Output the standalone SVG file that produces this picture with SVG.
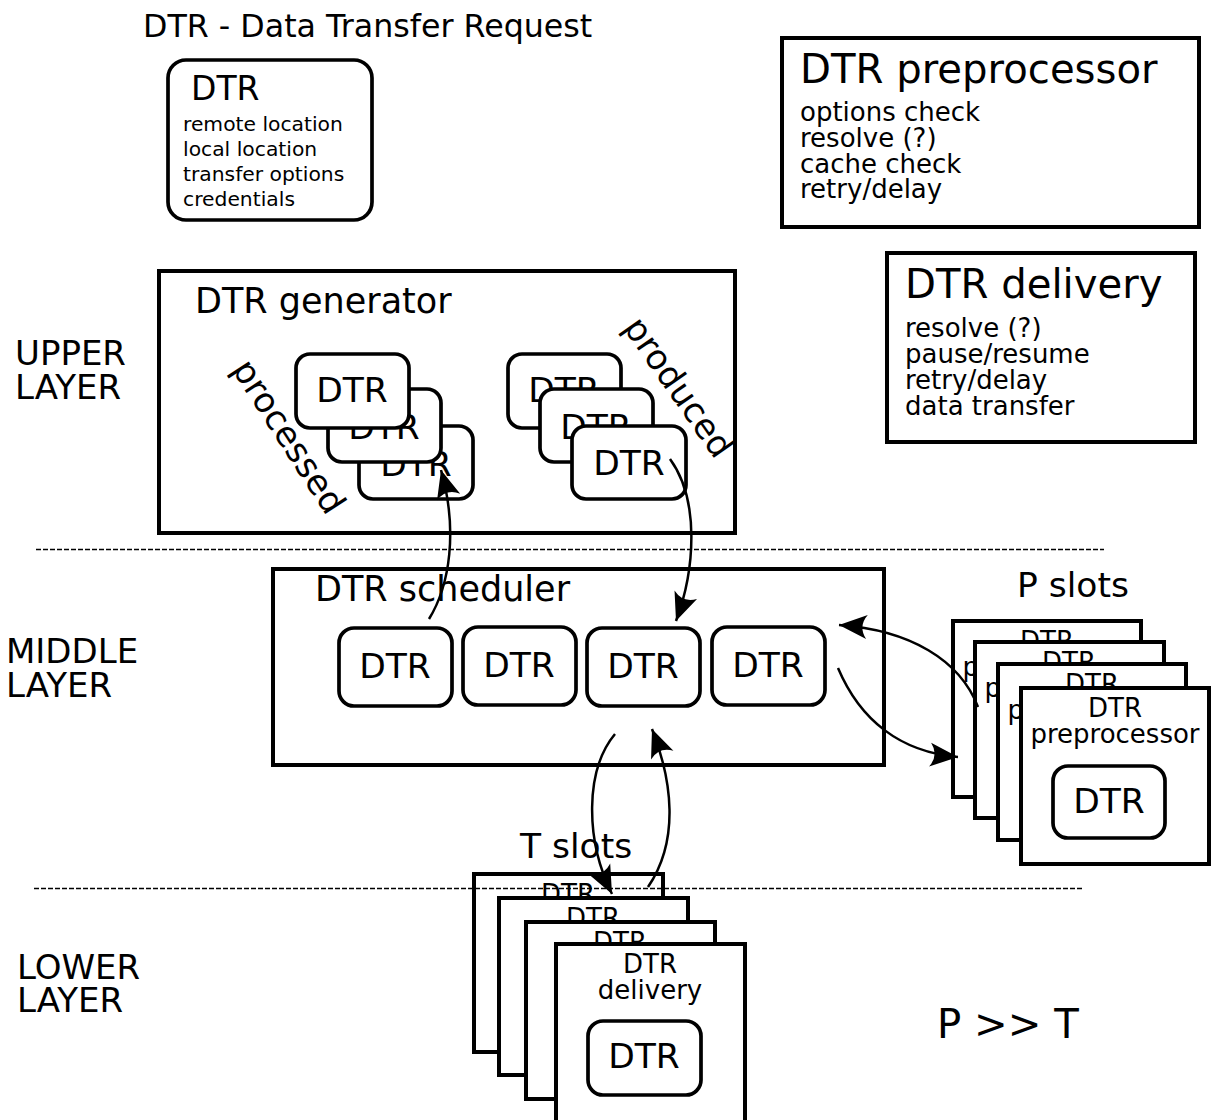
<svg xmlns="http://www.w3.org/2000/svg" width="1211" height="1120" viewBox="0 0 1211 1120">
<style>
text{font-family:"DejaVu Sans","Liberation Sans",sans-serif;fill:#000}
.box{fill:#fff;stroke:#000;stroke-width:4}
.rbox{fill:#fff;stroke:#000;stroke-width:3.7}
.slot{fill:#fff;stroke:#000;stroke-width:4}
.t34{font-size:34.5px}
.t26{font-size:26px}
.t20{font-size:20.3px}
.t40{font-size:40.2px}
.lay{font-size:34px}
.mid{text-anchor:middle}
.conn{fill:none;stroke:#000;stroke-width:2.5;marker-end:url(#ah)}
.dash{fill:none;stroke:#000;stroke-width:1.3;stroke-dasharray:5,2}
</style>
<defs>
<marker id="ah" markerUnits="userSpaceOnUse" markerWidth="32" markerHeight="28" refX="0" refY="0" orient="auto" overflow="visible">
<path d="M0,0 L-28,-12 Q-19,0 -28,12 Z" fill="#000"/>
</marker>
</defs>
<rect width="1211" height="1120" fill="#fff"/>

<g id="title"><text x="143" y="37" style="font-size:31.7px">DTR - Data Transfer Request</text></g>

<g id="dtr-info">
<rect x="168" y="60" width="204" height="160" rx="18" class="rbox"/>
<text x="191" y="100" style="font-size:33px">DTR</text>
<text x="183" y="131" class="t20">remote location</text>
<text x="183" y="156" class="t20">local location</text>
<text x="183" y="181" class="t20">transfer options</text>
<text x="183" y="206" class="t20">credentials</text>
</g>

<g id="preprocessor-info">
<rect x="782" y="38" width="417" height="189" class="box"/>
<text x="800" y="83" class="t40">DTR preprocessor</text>
<text x="800" y="121" class="t26">options check</text>
<text x="800" y="147" class="t26">resolve (?)</text>
<text x="800" y="173" class="t26">cache check</text>
<text x="800" y="198" class="t26">retry/delay</text>
</g>

<g id="delivery-info">
<rect x="887" y="253" width="308" height="189" class="box"/>
<text x="905" y="298" class="t40">DTR delivery</text>
<text x="905" y="337" class="t26">resolve (?)</text>
<text x="905" y="363" class="t26">pause/resume</text>
<text x="905" y="389" class="t26">retry/delay</text>
<text x="905" y="415" class="t26">data transfer</text>
</g>

<g id="layer-labels">
<text x="15" y="365" class="lay">UPPER</text>
<text x="15" y="399" class="lay">LAYER</text>
<text x="6" y="663" class="lay">MIDDLE</text>
<text x="6" y="697" class="lay">LAYER</text>
<text x="17" y="979" class="lay">LOWER</text>
<text x="17" y="1012" class="lay">LAYER</text>
</g>

<g id="generator">
<rect x="159" y="271" width="576" height="262" class="box"/>
<text x="195" y="313" style="font-size:35px">DTR generator</text>
<rect x="359" y="426" width="114" height="73" rx="14" class="rbox"/>
<text x="416" y="476" class="t34 mid">DTR</text>
<rect x="328" y="389" width="113" height="73" rx="14" class="rbox"/>
<text x="384" y="439" class="t34 mid">DTR</text>
<rect x="296" y="354" width="113" height="74" rx="14" class="rbox"/>
<text x="352" y="402" class="t34 mid">DTR</text>
<text transform="translate(279,443) rotate(57)" class="t34 mid">processed</text>
<rect x="508" y="354" width="113" height="74" rx="14" class="rbox"/>
<text x="564" y="402" class="t34 mid">DTR</text>
<rect x="540" y="389" width="113" height="73" rx="14" class="rbox"/>
<text x="596" y="439" class="t34 mid">DTR</text>
<rect x="572" y="426" width="114" height="73" rx="14" class="rbox"/>
<text x="629" y="475" class="t34 mid">DTR</text>
<text transform="translate(669,394) rotate(55)" class="t34 mid">produced</text>
</g>

<g id="scheduler">
<rect x="273" y="569" width="611" height="196" class="box"/>
<text x="315" y="601" style="font-size:35px">DTR scheduler</text>
<rect x="339" y="628" width="113" height="78" rx="15" class="rbox"/>
<text x="395" y="678" class="t34 mid">DTR</text>
<rect x="463" y="627" width="113" height="78" rx="15" class="rbox"/>
<text x="519" y="677" class="t34 mid">DTR</text>
<rect x="587" y="628" width="113" height="78" rx="15" class="rbox"/>
<text x="643" y="678" class="t34 mid">DTR</text>
<rect x="712" y="627" width="113" height="78" rx="15" class="rbox"/>
<text x="768" y="677" class="t34 mid">DTR</text>
</g>

<g id="p-slots">
<text x="1017" y="597" class="t34">P slots</text>
<rect x="953" y="621" width="188" height="176" class="slot"/>
<text x="1047" y="650" class="t26 mid">DTR</text>
<text x="1047" y="676" class="t26 mid">preprocessor</text>
<rect x="975" y="642" width="189" height="176" class="slot"/>
<text x="1069" y="671" class="t26 mid">DTR</text>
<text x="1069" y="697" class="t26 mid">preprocessor</text>
<rect x="998" y="664" width="188" height="176" class="slot"/>
<text x="1092" y="693" class="t26 mid">DTR</text>
<text x="1092" y="719" class="t26 mid">preprocessor</text>
<rect x="1021" y="688" width="188" height="176" class="slot"/>
<text x="1115" y="717" class="t26 mid">DTR</text>
<text x="1115" y="743" class="t26 mid">preprocessor</text>
<rect x="1053" y="766" width="112" height="72" rx="15" class="rbox"/>
<text x="1109" y="813" class="t34 mid">DTR</text>
</g>

<g id="t-slots">
<text x="520" y="858" class="t34">T slots</text>
<rect x="474" y="874" width="189" height="178" class="slot"/>
<text x="568" y="903" class="t26 mid">DTR</text>
<rect x="499" y="898" width="189" height="177" class="slot"/>
<text x="593" y="927" class="t26 mid">DTR</text>
<rect x="526" y="922" width="189" height="177" class="slot"/>
<text x="620" y="951" class="t26 mid">DTR</text>
<rect x="556" y="944" width="189" height="180" class="slot"/>
<text x="650" y="973" class="t26 mid">DTR</text>
<text x="650" y="999" class="t26 mid">delivery</text>
<rect x="588" y="1021" width="113" height="74" rx="15" class="rbox"/>
<text x="644" y="1068" class="t34 mid">DTR</text>
</g>

<g id="ratio"><text x="937" y="1038" class="t40">P &gt;&gt; T</text></g>

<g id="separators">
<line x1="36" y1="549.5" x2="1104" y2="549.5" class="dash"/>
<line x1="34" y1="888.5" x2="1083" y2="888.5" class="dash"/>
</g>

<g id="connectors">
<path d="M429,619 C450,585 458,530 441,470" class="conn"/>
<path d="M670,459 C700,500 695,570 676,621" class="conn"/>
<path d="M978,707 C960,660 910,630 839,625" class="conn"/>
<path d="M838,668 C860,720 900,752 958,757" class="conn"/>
<path d="M615,734 C585,770 585,840 612,894" class="conn"/>
<path d="M648,887 C680,840 672,780 652,729" class="conn"/>
</g>
</svg>
